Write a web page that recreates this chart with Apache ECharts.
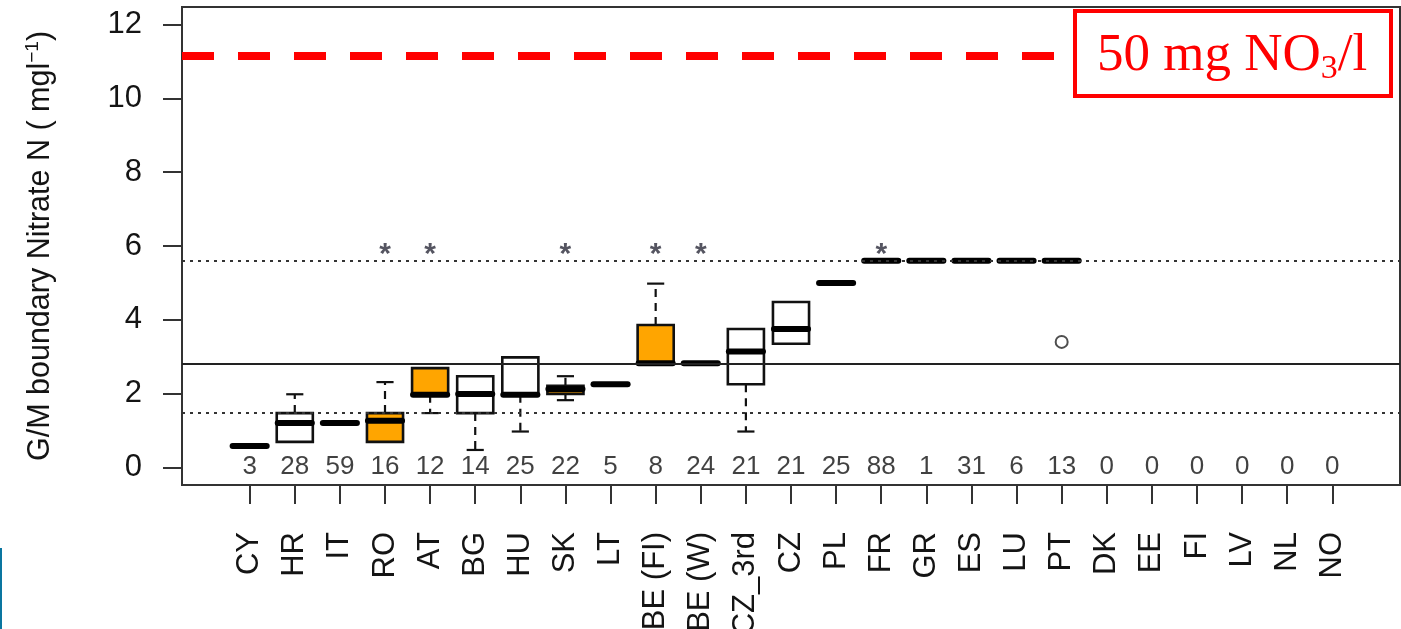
<!DOCTYPE html>
<html>
<head>
<meta charset="utf-8">
<title>G/M boundary Nitrate N</title>
<script src="https://cdn.jsdelivr.net/npm/echarts@6/dist/echarts.min.js"></script>
<style>
  html, body { margin: 0; padding: 0; background: #ffffff; }
  #chart { width: 1401px; height: 629px; }
</style>
</head>
<body>
<div id="chart"></div>
<script>
// Member states / groups along the x axis
const categories = ['CY', 'HR', 'IT', 'RO', 'AT', 'BG', 'HU', 'SK', 'LT', 'BE (FI)', 'BE (W)', 'CZ_3rd',
  'CZ', 'PL', 'FR', 'GR', 'ES', 'LU', 'PT', 'DK', 'EE', 'FI', 'LV', 'NL', 'NO'];

// Number of water bodies behind each box
const counts = [3, 28, 59, 16, 12, 14, 25, 22, 5, 8, 24, 21, 21, 25, 88, 1, 31, 6, 13, 0, 0, 0, 0, 0, 0];

// Box statistics (mg N/l): lower whisker, first quartile, median, third quartile, upper whisker
const whiskerLow = [0.58, 0.69, 1.20, 0.69, 1.47, 0.47, 0.97, 1.82, 2.25, 2.82, 2.82, 0.97, 3.35, 5.00, 5.60, 5.60, 5.60, 5.60, 5.60, null, null, null, null, null, null];
const quartile1  = [0.58, 0.69, 1.20, 0.69, 1.97, 1.47, 1.97, 1.99, 2.25, 2.82, 2.82, 2.25, 3.35, 5.00, 5.60, 5.60, 5.60, 5.60, 5.60, null, null, null, null, null, null];
const medians    = [0.58, 1.20, 1.20, 1.26, 1.97, 1.99, 1.97, 2.12, 2.25, 2.82, 2.82, 3.14, 3.75, 5.00, 5.60, 5.60, 5.60, 5.60, 5.60, null, null, null, null, null, null];
const quartile3  = [0.58, 1.47, 1.20, 1.47, 2.69, 2.47, 2.98, 2.21, 2.25, 3.86, 2.82, 3.75, 4.48, 5.00, 5.60, 5.60, 5.60, 5.60, 5.60, null, null, null, null, null, null];
const whiskerHigh= [0.58, 1.98, 1.20, 2.31, 2.69, 2.47, 2.98, 2.47, 2.25, 4.98, 2.82, 3.75, 4.48, 5.00, 5.60, 5.60, 5.60, 5.60, 5.60, null, null, null, null, null, null];

// Outlying values
const outlierCategories = ['PT'];
const outlierValues = [3.4];

// Groups shown with a filled box, and groups flagged with an asterisk
const highlighted = ['RO', 'AT', 'SK', 'BE (FI)'];
const flagged = ['RO', 'AT', 'SK', 'BE (FI)', 'BE (W)', 'FR'];

// Horizontal reference levels (mg N/l)
const upperDotted = 5.6;
const centralLine = 2.82;
const lowerDotted = 1.47;
const nitrateLimit = 11.15;   // 50 mg NO3/l expressed as N

// Y axis tick labels
const yTicks = [0, 2, 4, 6, 8, 10, 12];

const FONT = "'Liberation Sans', Arial, Helvetica, sans-serif";
const INK = '#141414';
const STAR_LEVEL = 5.9;

const positions = categories.map((c, i) => i + 1);

const boxRows = [];
categories.forEach((c, i) => {
  if (medians[i] == null) return;
  boxRows.push([i + 1, whiskerLow[i], quartile1[i], medians[i], quartile3[i], whiskerHigh[i],
    highlighted.includes(c) ? 1 : 0]);
});

function renderBox(params, api) {
  const x = api.value(0);
  const lo = api.value(1), q1 = api.value(2), med = api.value(3), q3 = api.value(4), hi = api.value(5);
  const filled = api.value(6) === 1;
  const unit = api.size([1, 0])[0];
  const halfW = unit * 0.4;
  const capW = unit * 0.19;
  const cx = api.coord([x, med])[0];
  const py = v => api.coord([x, v])[1];
  const kids = [];
  const whisker = { stroke: '#111', lineWidth: 2.2, lineDash: [8, 6] };
  const cap = { stroke: '#111', lineWidth: 2.2 };
  if (hi > q3) {
    kids.push({ type: 'line', shape: { x1: cx, y1: py(q3), x2: cx, y2: py(hi) }, style: whisker });
    kids.push({ type: 'line', shape: { x1: cx - capW, y1: py(hi), x2: cx + capW, y2: py(hi) }, style: cap });
  }
  if (lo < q1) {
    kids.push({ type: 'line', shape: { x1: cx, y1: py(q1), x2: cx, y2: py(lo) }, style: whisker });
    kids.push({ type: 'line', shape: { x1: cx - capW, y1: py(lo), x2: cx + capW, y2: py(lo) }, style: cap });
  }
  kids.push({
    type: 'rect',
    shape: { x: cx - halfW, y: py(q3), width: halfW * 2, height: py(q1) - py(q3) },
    style: { fill: filled ? '#FFA500' : '#ffffff', stroke: '#111', lineWidth: 2.6 }
  });
  kids.push({
    type: 'line',
    shape: { x1: cx - halfW + 1, y1: py(med), x2: cx + halfW - 1, y2: py(med) },
    style: { stroke: '#000', lineWidth: 6, lineCap: 'round' }
  });
  return { type: 'group', children: kids };
}

const chart = echarts.init(document.getElementById('chart'), null, { renderer: 'canvas' });

chart.setOption({
  animation: false,
  backgroundColor: '#ffffff',
  grid: {
    left: 182, right: 1, top: 7, bottom: 144,
    outerBoundsMode: 'none',
    containLabel: false,
    show: true, borderColor: '#333', borderWidth: 2, backgroundColor: 'transparent'
  },
  xAxis: {
    type: 'value',
    min: -0.5, max: 26.5,
    axisLine: { show: true, onZero: false, lineStyle: { color: '#333', width: 2 } },
    axisTick: { show: true, customValues: positions, length: 19, lineStyle: { color: '#333', width: 2 } },
    axisLabel: {
      customValues: positions,
      formatter: v => categories[Math.round(v) - 1] || '',
      rotate: 90, margin: 47,
      fontFamily: FONT, fontSize: 31, color: INK
    },
    splitLine: { show: false }
  },
  yAxis: {
    type: 'value',
    min: -0.48, max: 12.48,
    axisLine: { show: true, onZero: false, lineStyle: { color: '#333', width: 2 } },
    axisTick: { show: true, customValues: yTicks, length: 19, lineStyle: { color: '#333', width: 2 } },
    axisLabel: { customValues: yTicks, margin: 40, fontFamily: FONT, fontSize: 31, color: INK },
    splitLine: { show: false },
    name: '{n|G/M boundary Nitrate N ( mgl}{s|\u22121}{n|)}',
    nameLocation: 'middle',
    nameRotate: 90,
    nameGap: 124,
    nameTextStyle: {
      rich: {
        n: { fontFamily: FONT, fontSize: 30.5, color: INK, lineHeight: 35 },
        s: { fontFamily: FONT, fontSize: 19, color: INK, verticalAlign: 'top', lineHeight: 35 }
      }
    }
  },
  graphic: [
    {
      type: 'rect', z: 100,
      shape: { x: 1075, y: 11, width: 316, height: 85 },
      style: { fill: '#ffffff', stroke: '#ff0000', lineWidth: 4 }
    },
    {
      type: 'text', z: 101,
      x: 1097, y: 56,
      style: {
        text: '{a|50 mg NO}{b|3}{a|/l}',
        verticalAlign: 'middle',
        rich: {
          a: { fontFamily: "'Liberation Serif', 'Times New Roman', serif", fontSize: 53, fill: '#ff0000', lineHeight: 60 },
          b: { fontFamily: "'Liberation Serif', 'Times New Roman', serif", fontSize: 34, fill: '#ff0000', verticalAlign: 'bottom', lineHeight: 60 }
        }
      }
    },
    {
      type: 'rect', z: 100,
      shape: { x: 0, y: 548, width: 2, height: 81 },
      style: { fill: '#0a76a0' }
    }
  ],
  series: [
    {
      type: 'custom',
      name: 'boxes',
      z: 2,
      renderItem: renderBox,
      encode: { x: 0, y: [1, 2, 3, 4, 5] },
      data: boxRows
    },
    {
      type: 'scatter',
      name: 'counts',
      z: 4,
      symbolSize: 0,
      silent: true,
      data: counts.map((n, i) => [i + 1, 0, n]),
      label: {
        show: true, position: 'inside',
        formatter: p => String(p.value[2]),
        fontFamily: FONT, fontSize: 26, color: '#111'
      },
      markLine: {
        silent: true,
        symbol: 'none',
        label: { show: false },
        data: [
          { yAxis: upperDotted, lineStyle: { color: '#333', width: 2, type: [3, 5] } },
          { yAxis: lowerDotted, lineStyle: { color: '#333', width: 2, type: [3, 5] } },
          { yAxis: centralLine, lineStyle: { color: '#222', width: 2, type: 'solid' } },
          { yAxis: nitrateLimit, lineStyle: { color: '#ff0000', width: 8, type: [32, 24] } }
        ]
      }
    },
    {
      type: 'scatter',
      name: 'flags',
      z: 4,
      symbolSize: 0,
      silent: true,
      data: flagged.map(c => [categories.indexOf(c) + 1, STAR_LEVEL]),
      label: {
        show: true, position: 'inside', offset: [0, 5],
        formatter: '*',
        fontFamily: FONT, fontSize: 30, fontWeight: 'bold', color: '#2a2a3a'
      }
    },
    {
      type: 'scatter',
      name: 'outliers',
      z: 5,
      symbol: 'circle',
      symbolSize: 12,
      silent: true,
      itemStyle: { color: '#ffffff', borderColor: '#222', borderWidth: 2 },
      data: outlierCategories.map((c, k) => [categories.indexOf(c) + 1, outlierValues[k]])
    }
  ]
});
</script>
</body>
</html>
